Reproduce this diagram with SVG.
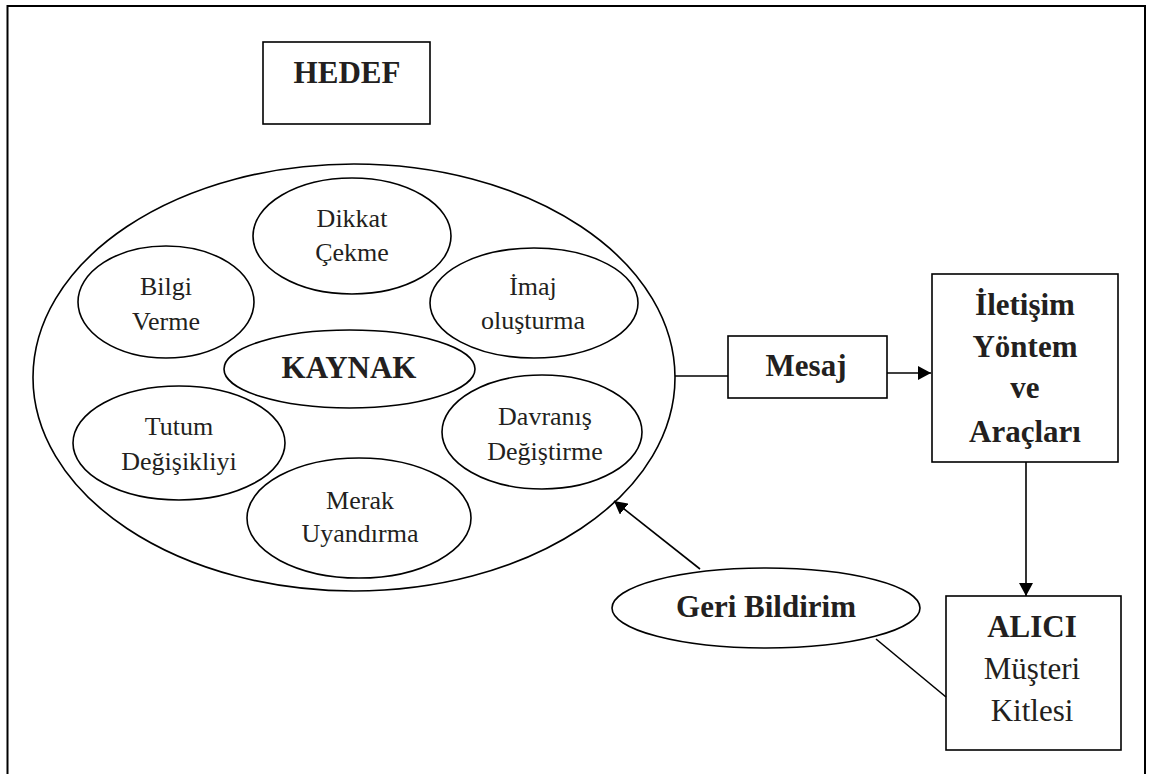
<svg xmlns="http://www.w3.org/2000/svg" width="1151" height="774" viewBox="0 0 1151 774">
  <style>
    .shape { fill: #ffffff; stroke: #000000; stroke-width: 1.6; }
    .frame { fill: none; stroke: #000000; stroke-width: 2; }
    .link { fill: none; stroke: #000000; stroke-width: 1.6; }
    .lbl { font-family: "Liberation Serif", "Times New Roman", serif; fill: #231f20; text-anchor: middle; }
    .big { font-size: 31px; font-weight: bold; }
    .mid { font-size: 31px; }
    .small { font-size: 26px; }
  </style>
  <defs>
    <marker id="arrow" markerUnits="userSpaceOnUse" markerWidth="14" markerHeight="14" refX="13" refY="7" orient="auto">
      <path d="M0,0 L13,7 L0,14 Z" fill="#000000"/>
    </marker>
  </defs>

  <rect width="1151" height="774" fill="#ffffff"/>

  <!-- page frame -->
  <rect class="frame" x="7.5" y="6" width="1137.5" height="800"/>

  <!-- HEDEF box -->
  <g id="hedef">
    <rect class="shape" x="263" y="42" width="167" height="82"/>
    <text class="lbl big" x="347" y="83">HEDEF</text>
  </g>

  <!-- source ellipse holding the goals -->
  <g id="kaynak-outer">
    <ellipse class="shape" cx="354" cy="377.5" rx="321" ry="213.5"/>
  </g>

  <g id="dikkat">
    <ellipse class="shape" cx="352" cy="236" rx="99" ry="58"/>
    <text class="lbl small" x="352" y="227">Dikkat</text>
    <text class="lbl small" x="352" y="261">Çekme</text>
  </g>

  <g id="bilgi">
    <ellipse class="shape" cx="166" cy="302" rx="88" ry="56"/>
    <text class="lbl small" x="166" y="295">Bilgi</text>
    <text class="lbl small" x="166" y="330">Verme</text>
  </g>

  <g id="imaj">
    <ellipse class="shape" cx="534" cy="303" rx="104" ry="55"/>
    <text class="lbl small" x="533" y="295">İmaj</text>
    <text class="lbl small" x="533" y="329">oluşturma</text>
  </g>

  <g id="kaynak">
    <ellipse class="shape" cx="349.5" cy="369" rx="125.5" ry="39"/>
    <text class="lbl big" x="349" y="378">KAYNAK</text>
  </g>

  <g id="tutum">
    <ellipse class="shape" cx="179" cy="443" rx="106" ry="57"/>
    <text class="lbl small" x="179" y="435">Tutum</text>
    <text class="lbl small" x="179" y="470">Değişikliyi</text>
  </g>

  <g id="davranis">
    <ellipse class="shape" cx="542" cy="432" rx="100" ry="57"/>
    <text class="lbl small" x="545" y="425">Davranış</text>
    <text class="lbl small" x="545" y="460">Değiştirme</text>
  </g>

  <g id="merak">
    <ellipse class="shape" cx="359" cy="518" rx="112" ry="60"/>
    <text class="lbl small" x="360" y="509">Merak</text>
    <text class="lbl small" x="360" y="542">Uyandırma</text>
  </g>

  <g id="mesaj">
    <rect class="shape" x="728" y="336" width="159" height="62"/>
    <text class="lbl big" x="806" y="376">Mesaj</text>
  </g>

  <g id="iletisim">
    <rect class="shape" x="932" y="274" width="186" height="188"/>
    <text class="lbl big" x="1025" y="315">İletişim</text>
    <text class="lbl big" x="1025" y="357">Yöntem</text>
    <text class="lbl big" x="1025" y="398">ve</text>
    <text class="lbl big" x="1025" y="442">Araçları</text>
  </g>

  <g id="alici">
    <rect class="shape" x="946" y="596" width="175" height="154"/>
    <text class="lbl big" x="1032" y="637">ALICI</text>
    <text class="lbl mid" x="1032" y="679">Müşteri</text>
    <text class="lbl mid" x="1032" y="721">Kitlesi</text>
  </g>

  <g id="geri-bildirim">
    <ellipse class="shape" cx="766" cy="608" rx="154" ry="40"/>
    <text class="lbl big" x="766" y="617">Geri Bildirim</text>
  </g>

  <!-- connectors -->
  <g id="connectors">
    <line class="link" x1="675" y1="376" x2="728" y2="376"/>
    <line class="link" x1="887" y1="373" x2="931" y2="373" marker-end="url(#arrow)"/>
    <line class="link" x1="1026" y1="462" x2="1026" y2="596" marker-end="url(#arrow)"/>
    <line class="link" x1="700" y1="569" x2="614" y2="501" marker-end="url(#arrow)"/>
    <line class="link" x1="876" y1="639" x2="946" y2="697"/>
  </g>
</svg>
